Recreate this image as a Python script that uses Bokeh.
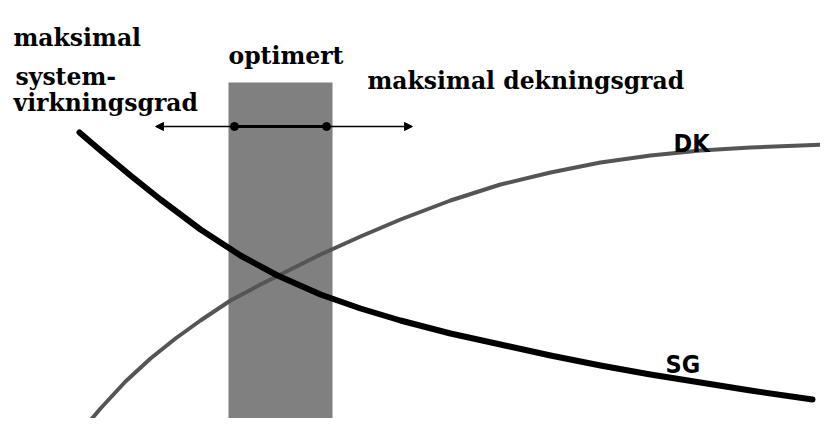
from bokeh.plotting import figure
from bokeh.models import Range1d, Arrow, NormalHead
from bokeh.core.properties import value
from bokeh.embed import file_html
from bokeh.resources import INLINE

# Schematic values in chart units (x to the right, y upward)
sg_x = [79, 100, 130, 160, 200, 240, 277, 320, 360, 400, 450, 500, 550, 600, 650, 700, 750, 812]
sg_y = [286, 268, 243, 219, 189, 163, 143, 124, 110, 98, 85, 74, 63, 53, 44, 36, 28, 19]

dk_x = [78, 100, 125, 150, 175, 200, 230, 260, 290, 320, 360, 400, 450, 500, 550, 600, 650, 700, 750, 800, 830]
dk_y = [-16, 10, 37, 60, 80, 98, 118, 134, 149, 164, 182, 199, 218, 234, 246, 256, 263, 268, 271, 273, 274]

band_left = [228]
band_right = [332]
band_top = [336]
band_bottom = [-5]

arrow_left, arrow_right, arrow_y = 155, 412, 292
marker_x = [234, 326]

labels_text = ["maksimal", "system-", "virkningsgrad", "optimert", "maksimal dekningsgrad"]
labels_x = [13, 15, 13, 228, 367]
labels_y = [381, 342, 316, 363, 338]

curve_labels = ["DK", "SG"]
curve_labels_x = [673, 665]
curve_labels_y = [275, 54]

p = figure(width=820, height=418, output_backend="svg", toolbar_location=None,
           x_range=Range1d(0, 820), y_range=Range1d(0, 418),
           x_axis_type=None, y_axis_type=None, min_border=0)
p.grid.visible = False
p.outline_line_color = None
p.background_fill_color = "white"
p.border_fill_color = "white"

p.quad(left=band_left, right=band_right, top=band_top, bottom=band_bottom,
       fill_color="#808080", line_color=None)

p.line(dk_x, dk_y, line_color="#555555", line_width=4, line_cap="round", line_join="round")
p.line(sg_x, sg_y, line_color="black", line_width=6, line_cap="round", line_join="round")

p.add_layout(Arrow(start=NormalHead(size=8, fill_color="black", line_color="black"),
                   end=NormalHead(size=8, fill_color="black", line_color="black"),
                   x_start=arrow_left, y_start=arrow_y, x_end=arrow_right, y_end=arrow_y,
                   line_color="black", line_width=1.5))
p.segment(x0=[marker_x[0]], y0=[arrow_y], x1=[marker_x[1]], y1=[arrow_y],
          line_color="black", line_width=3)
p.scatter(marker_x, [arrow_y] * 2, size=8, color="black")

p.text(x=labels_x, y=labels_y, text=labels_text,
       text_font=value("DejaVu Serif"), text_font_style="bold",
       text_font_size="23.5px", text_color="black", text_baseline="alphabetic")

p.text(x=curve_labels_x, y=curve_labels_y, text=curve_labels,
       text_font=value("Liberation Sans Narrow, DejaVu Sans Condensed, sans-serif"),
       text_font_style="bold",
       text_font_size="25px", text_color="black", text_baseline="alphabetic")

open("out.html", "w").write(file_html(p, INLINE))
